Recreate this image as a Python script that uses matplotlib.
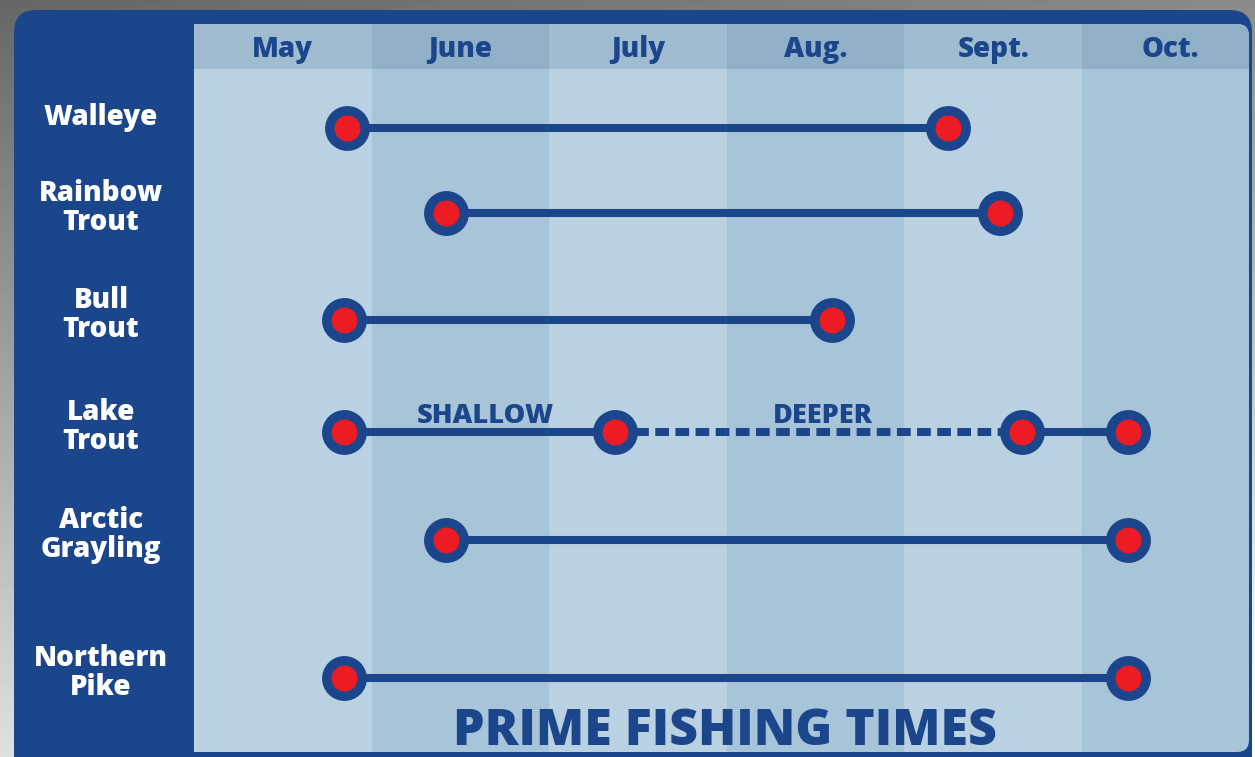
import numpy as np
import matplotlib
matplotlib.use("Agg")
import matplotlib.pyplot as plt
from matplotlib.patches import FancyBboxPatch

# Dados
months = ["May", "June", "July", "Aug.", "Sept.", "Oct."]
species = ["Walleye", "Rainbow\nTrout", "Bull\nTrout", "Lake\nTrout", "Arctic\nGrayling", "Northern\nPike"]
# inicio/fim de cada segmento em meses (0 = inicio de maio)
seg_start = [[0.86], [1.42], [0.845], [0.845, 2.37, 4.66], [1.42], [0.845]]
seg_end = [[4.245], [4.54], [3.59], [2.37, 4.66, 5.26], [5.26], [5.26]]
seg_style = [["-"], ["-"], ["-"], ["-", "--", "-"], ["-"], ["-"]]
lake_notes = ["SHALLOW", "DEEPER"]
lake_note_x = [1.64, 3.54]
title = "PRIME FISHING TIMES"

# layout (pixels da figura)
row_y = [128, 213, 320, 432, 540, 678]
W, H = 1255, 757
X0, X1, Y0, Y1 = 194, 1249, 24, 752
HEADER = 69
XMAX = 5.94  # coluna de outubro cortada na borda

BLUE = "#1b468c"
RED = "#ed1c24"
col_body = ["#b9d1e0", "#a8c4d8"]
col_head = ["#a0bcd1", "#90b0c8"]
FONT = "Open Sans"

fig = plt.figure(figsize=(W / 100, H / 100), dpi=100)

# fundo + moldura
bg = fig.add_axes([0, 0, 1, 1])
bg.set_xlim(0, W)
bg.set_ylim(H, 0)
bg.axis("off")
grad = np.linspace(0, 1, 200)
gx, gy = np.meshgrid(grad, grad)
tex = 0.42 + 0.5 * gy + 0.15 * gx
bg.imshow(tex, cmap="gray", extent=[0, W, H, 0], aspect="auto", vmin=0, vmax=1.05)
frame = FancyBboxPatch((14, 10), 1238, 770, boxstyle="round,pad=0,rounding_size=22",
                       fc=BLUE, ec="none")
bg.add_patch(frame)
clip = FancyBboxPatch((170, Y0), X1 - 170, Y1 - Y0, boxstyle="round,pad=0,rounding_size=12",
                      transform=bg.transData, fc="none", ec="none")

# area do grafico
ax = fig.add_axes([X0 / W, 1 - Y1 / H, (X1 - X0) / W, (Y1 - Y0) / H])
ax.set_xlim(0, XMAX)
ax.set_ylim(Y1, Y0)
ax.axis("off")

for i, m in enumerate(months):
    b = ax.axvspan(i, i + 1, color=col_body[i % 2], lw=0, zorder=0)
    h = ax.fill_between([i, i + 1], Y0, HEADER, color=col_head[i % 2], lw=0, zorder=1)
    b.set_clip_path(clip)
    h.set_clip_path(clip)
    ax.text(i + 0.5, (Y0 + HEADER) / 2 + 3, m, ha="center", va="center", color=BLUE,
            fontsize=20, fontweight=800, family=FONT)

for name, y, xs, xe, st in zip(species, row_y, seg_start, seg_end, seg_style):
    for a, b, s in zip(xs, xe, st):
        ax.plot([a, b], [y, y], color=BLUE, lw=5.8, ls=(0, (1.7, 0.8)) if s == "--" else "-",
                solid_capstyle="butt", zorder=3)
    pts = sorted(set(xs) | set(xe))
    ax.plot(pts, [y] * len(pts), ls="none", marker="o", ms=25.5, mfc=RED, mec=BLUE,
            mew=6.8, zorder=4)
    dy = -5 if "\n" in name else -10
    ax.text(-(X0 - 101) / ((X1 - X0) / XMAX), y + dy, name, ha="center", va="center",
            color="white", fontsize=20, fontweight=800, family=FONT, linespacing=1.0,
            clip_on=False)

for note, nx in zip(lake_notes, lake_note_x):
    ax.text(nx, row_y[3] - 3, note, ha="center", va="bottom", color=BLUE, fontsize=19.5,
            fontweight=800, family=FONT)

ax.text(2.99, 745, title, ha="center", va="baseline", color=BLUE, fontsize=36,
        fontweight=800, family=FONT)

fig.savefig("out.png", dpi=100)
